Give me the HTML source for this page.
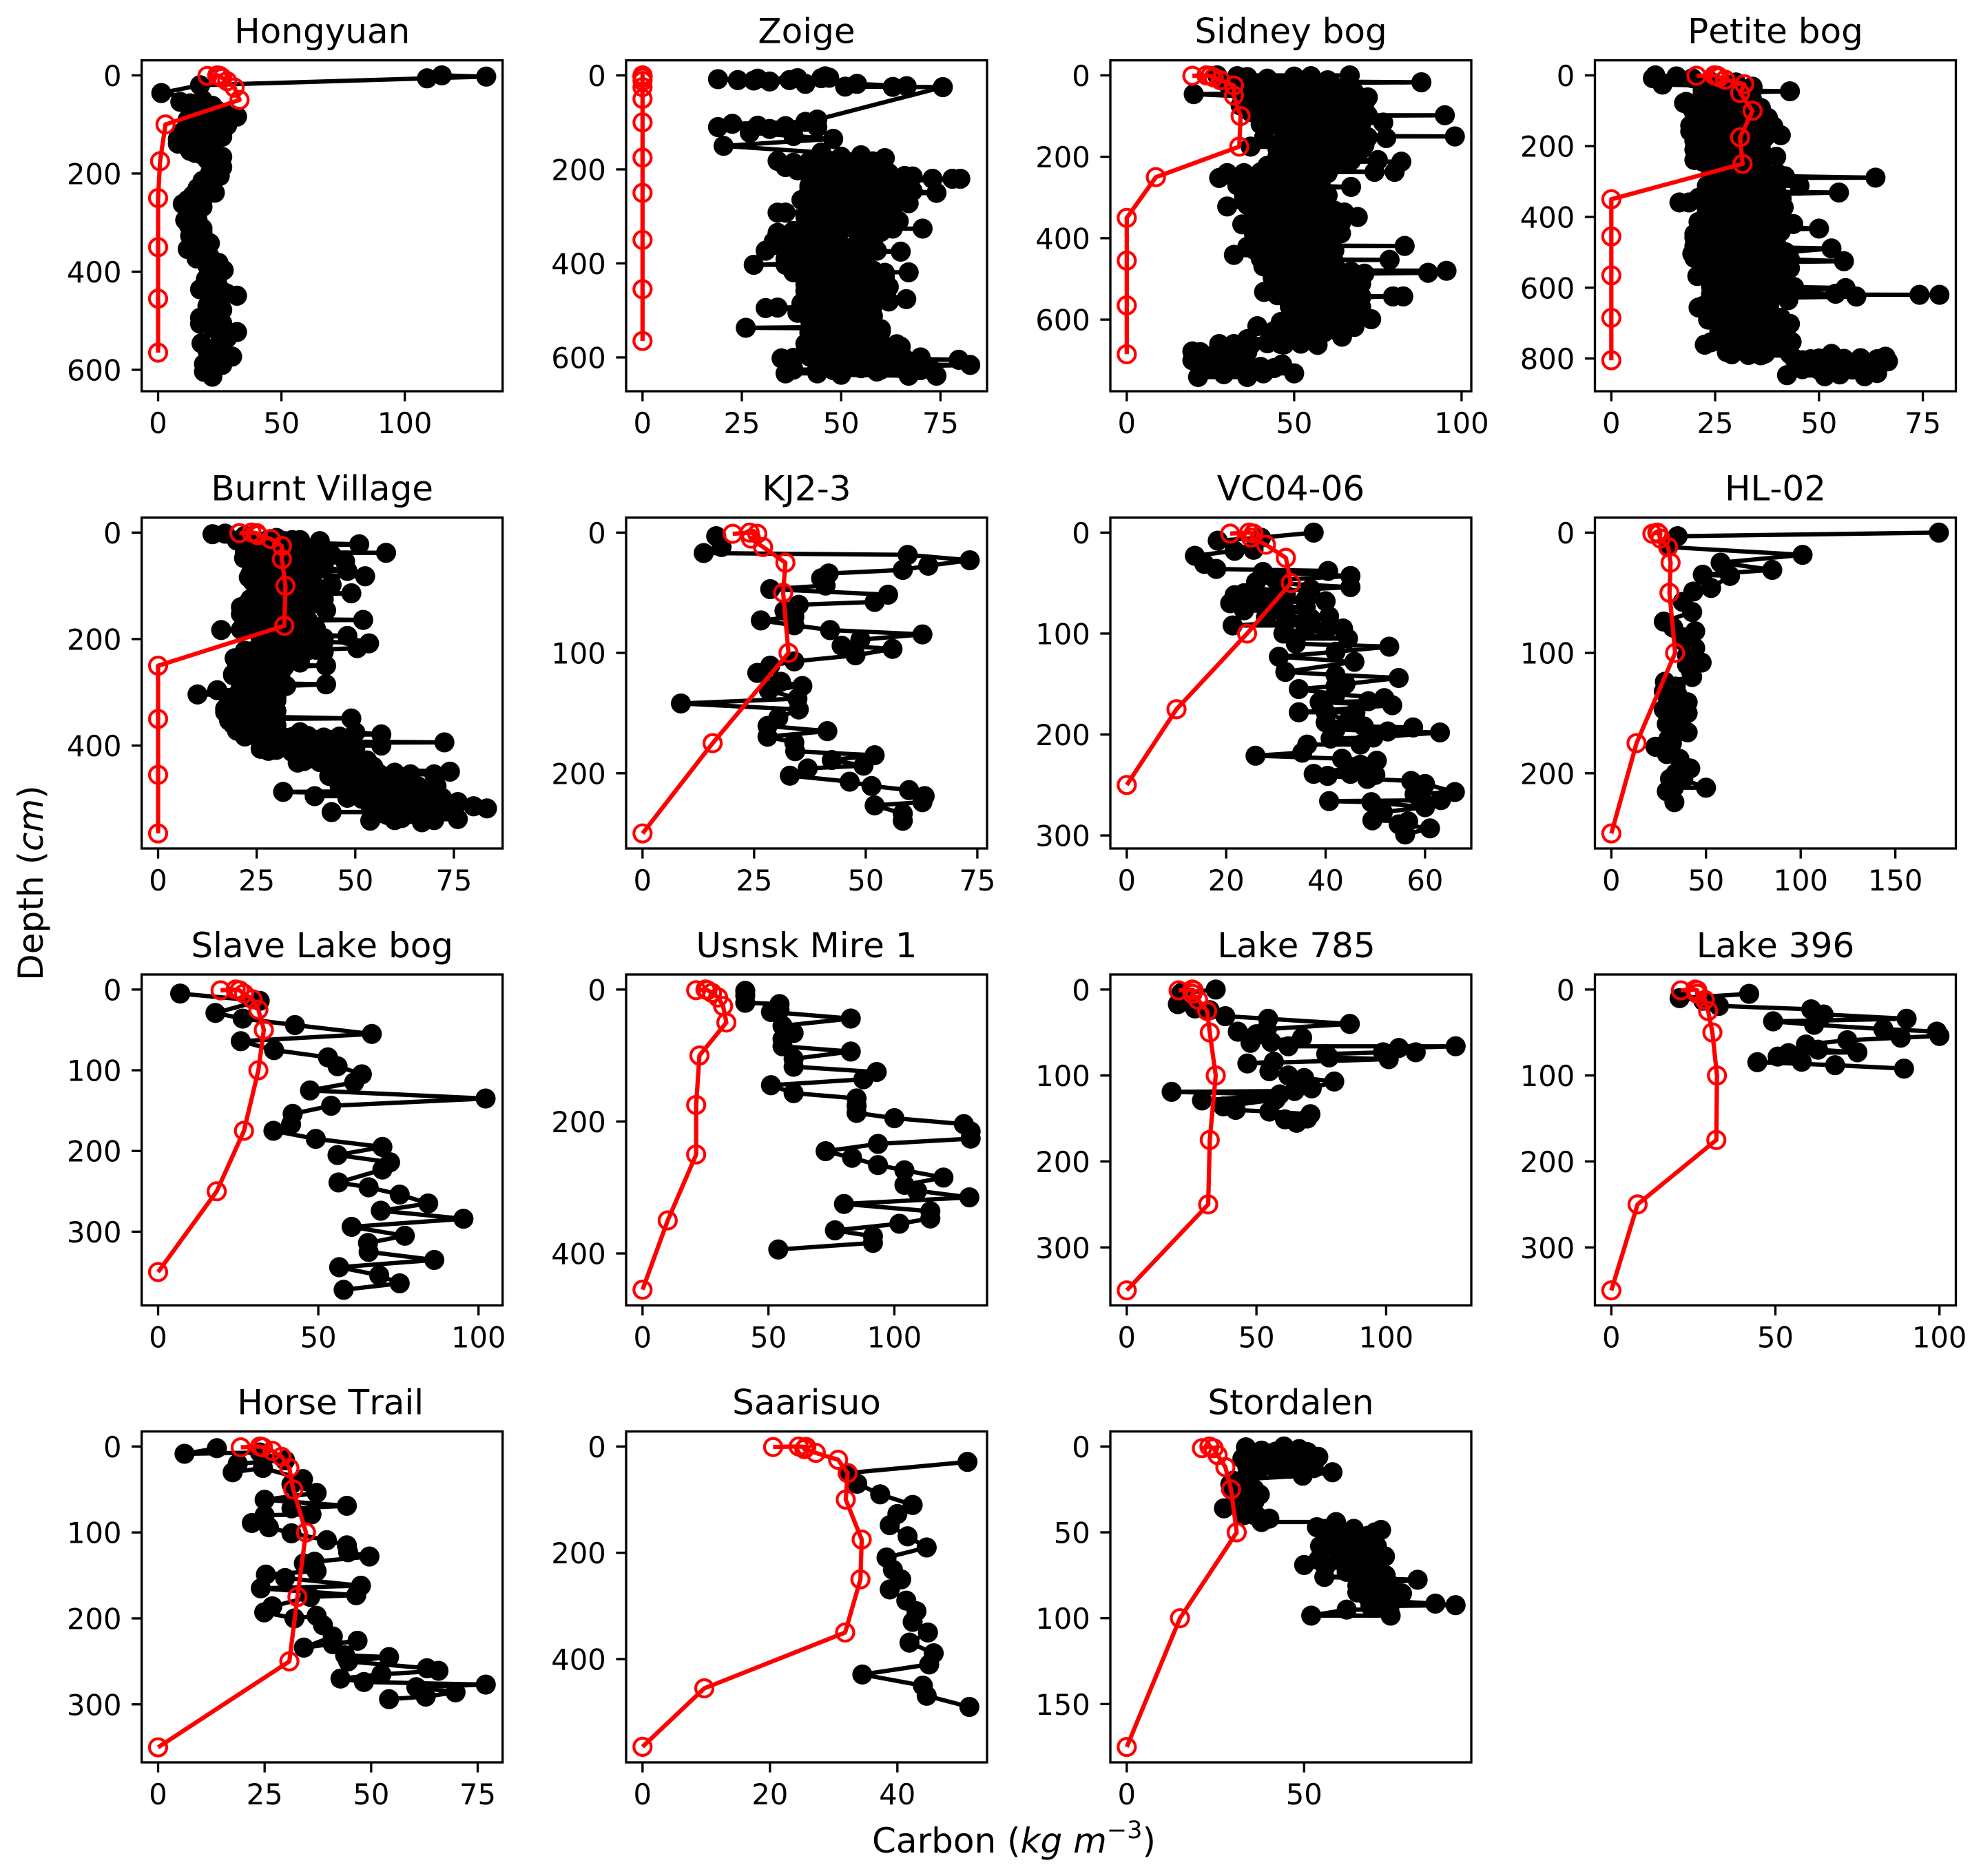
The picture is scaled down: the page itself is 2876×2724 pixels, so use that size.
<!DOCTYPE html>
<html lang="en">
<head>
<meta charset="utf-8">
<title>Carbon density by depth at peat sites</title>
<style>
html,body{margin:0;padding:0;background:#fff;}
svg{display:block;}
text{font-family:"DejaVu Sans","Liberation Sans",sans-serif;fill:#000;}
</style>
</head>
<body>
<svg id="fig" xmlns="http://www.w3.org/2000/svg" width="2876" height="2724" viewBox="0 0 2876 2724">
<rect x="0" y="0" width="2876" height="2724" fill="#fff"/>
<text transform="translate(62,1282) rotate(-90)" text-anchor="middle" font-size="50">Depth (<tspan font-style="italic">cm</tspan>)</text>
<text x="1472" y="2690" text-anchor="middle" font-size="50">Carbon (<tspan font-style="italic">kg m</tspan><tspan font-size="35" dy="-21">−3</tspan><tspan dy="21">)</tspan></text>
</svg>
<script>
const siteNames = ["Hongyuan","Zoige","Sidney bog","Petite bog","Burnt Village","KJ2-3","VC04-06","HL-02","Slave Lake bog","Usnsk Mire 1","Lake 785","Lake 396","Horse Trail","Saarisuo","Stordalen"];
const carbonMax = [133,82.6,98,79,83.2,73.5,66,173.3,102.4,130.3,126.5,100,77,51.5,92.5];
const depthMax = [613,640,739,850,565,250,298,250,372.7,456,350,350,350,566,175.2];
const carbonTicks = [[0,50,100],[0,25,50,75],[0,50,100],[0,25,50,75],[0,25,50,75],[0,25,50,75],[0,20,40,60],[0,50,100,150],[0,50,100],[0,50,100],[0,50,100],[0,50,100],[0,25,50,75],[0,20,40],[0,50]];
const depthTicks = [[0,200,400,600],[0,200,400,600],[0,200,400,600],[0,200,400,600,800],[0,200,400],[0,100,200],[0,100,200,300],[0,100,200],[0,100,200,300],[0,200,400],[0,100,200,300],[0,100,200,300],[0,100,200,300],[0,200,400],[0,50,100,150]];

const modelDepths = [1,0,1,5,12,25,50,100,175,250,350,455,565,685,805];

const modelHongyuan = [20,24,25,26,28,31,33,3,0.8,0,0,0,0];
const modelZoige = [0,0,0,0,0,0,0,0,0,0,0,0,0];
const modelSidney = [19.6,23.8,25,26,28,32,32,34,33.6,8.7,0,0,0,0];
const modelPetite = [20.5,24.8,25.5,26,27.4,32,31,34,31,31.6,0,0,0,0,0];
const modelBurnt = [20.6,23.7,25,25.3,28.6,31.4,31.4,32.3,32,0,0,0,0];
const modelKJ = [20.2,24,25.7,24.3,27,32,31.5,32.7,15.7,0];
const modelVC = [20.8,24.6,25.5,25,28,32,33,24.2,10,0];
const modelHL = [21.7,24.3,25,26,30,31.3,30.7,33.7,13.3,0];
const modelSlave = [19.5,24.2,25.4,26.8,29.5,31.3,33,31.3,26.8,18.3,0];
const modelUsnsk = [21.3,25,25.8,27.6,30,32,33.3,22.6,21.3,21.3,10,0];
const model785 = [20,25.3,25.8,25.3,27.5,31,32,34.3,32,31.4,0];
const model396 = [21.2,25.6,26.2,26.2,28.5,29.5,30.8,32.2,32,8,0];
const modelHorse = [19.4,23.9,24.6,26.8,29,30.8,31.7,34.7,32.7,30.8,0];
const modelSaarisuo = [20.5,24.5,25.7,25.4,27.2,30.7,32.2,31.9,34.4,34.2,31.8,9.7,0];
const modelStordalen = [21.2,23.3,24.5,25.6,27.8,29.4,31,15,0];

/* observed profiles: [carbon, depth] */
const obsHongyuan = [[133,2.5],[115,0],[109,6],[17,20],[1.3,36],[9,54],[13,57],[18,50],[22,62],[14,68],[24,72],[32,84],[18,85],[12,90],[26,95],[20,100],[25,108],[14,105],[10,115],[22,118],[16,125],[24,120],[8,130],[12,135],[8,139],[18,140],[13,154],[17,160],[26,166],[23,175],[20,172],[26,187],[23,195],[22,209],[19,220],[16,230],[23,239],[14,245],[12,254],[18,255],[10,262],[15,270],[13,284],[11,295],[12.5,306],[18,312],[18,321],[13,327],[21,342],[14,340],[12,354],[18,358],[15.6,373],[24.5,382],[20,388],[26.6,397],[22,405],[19.4,415],[24,425],[17,436],[26,440],[32,449],[24,455],[23,458],[20,470],[26,478],[17,494],[24,500],[17,506],[22,515],[32,523],[26,530],[17.6,546],[24,552],[30,573],[24,575],[18.6,588],[20,596],[18.6,604],[22,614]];
const coreHongyuan = [[12,60],[17,66],[22,76],[27,78],[14,80],[20,82],[26,88],[16,95],[22,100],[28,102],[12,110],[18,112],[24,112],[10,125],[15,128],[20,130],[26,125],[11,142],[16,145],[22,140],[15,158],[22,155],[20,165],[24,180],[21,200],[25,205],[18,215],[20,228],[15,240],[19,245],[13,262],[18,268],[14,278],[16,295],[14,318],[18,330],[16,345],[17,365],[21,370],[22,392],[24,410],[21,422],[20,442],[26,452],[28,445],[22,478],[24,490],[20,505],[26,505],[24,520],[28,535],[20,560],[24,560],[26,590],[22,590]];
const obsZoige = [[19,8],[24,10],[28,11],[29,7],[32,13],[37,10],[39,6],[41,18],[45,6],[46,2],[47,5],[51,24],[54,18],[63,24.5],[66.5,23],[75.6,25],[44,94],[41,99],[36,108],[29,107],[27,122],[22.6,103],[19,110],[32,114],[38,129],[44,110],[48,135],[20.4,150],[45,164],[50,173],[55,170],[61,176],[34,182],[36,195],[39,202],[46,190],[52,185],[58,195],[68,215],[73,220],[78,220],[80,220],[62,208],[48,205],[44,215],[56,218],[64,225],[52,228],[42,235],[60,238],[74,250],[68,246],[50,245],[42,255],[62,258],[46,262],[67,272],[40,265],[56,270],[44,278],[60,282],[50,285],[34,292],[36,292],[42,296],[54,298],[64.5,310],[58,305],[44,308],[50,315],[62,320],[70.5,326],[63,326],[46,325],[34,335],[54,332],[42,340],[33,354],[38,350],[48,348],[58,352],[44,360],[31,373],[36,365],[52,368],[59,373],[65,375],[40,380],[50,385],[46,392],[56,395],[28,403],[36,403],[42,405],[52,410],[38,419],[48,418],[67,419],[58,415],[61,430],[44,428],[54,435],[41,445],[50,448],[59,450],[41,459],[47,465],[56,462],[66.4,476],[62,481],[44,472],[52,478],[40,485],[58,490],[31,495],[34,494],[39,505],[48,500],[55,508],[42,518],[52,520],[58,525],[26,537],[44,530],[50,535],[42,548],[60,545],[48,555],[56,560],[43,565],[52,570],[65,577],[60,575],[44,582],[50,588],[35,602],[42,598],[56,595],[79.6,605],[62,605],[48,608],[69.6,621],[82.5,616],[54,615],[36,634],[44,634],[50,637],[59,630],[67,639],[74,639],[63,620]];
const coreZoige = [[38,186],[42,183],[46,188],[50,184],[54,187],[58,183],[42,212],[46,209],[50,214],[54,210],[58,213],[62,211],[66,214],[42,241],[46,238],[50,243],[54,239],[58,242],[62,238],[65,241],[42,271],[46,268],[50,273],[54,269],[58,272],[62,268],[64,272],[41,301],[45,298],[49,303],[53,299],[57,302],[61,299],[38,331],[42,328],[46,333],[50,329],[54,332],[58,329],[60,333],[34,361],[38,358],[42,363],[46,359],[50,362],[54,358],[57,362],[36,391],[40,388],[44,393],[48,389],[52,392],[55,388],[41,421],[45,418],[49,423],[53,419],[57,422],[61,420],[43,451],[47,448],[51,453],[55,449],[59,452],[62,450],[42,481],[46,478],[50,483],[54,479],[58,482],[42,511],[46,508],[50,513],[54,509],[58,512],[42,541],[46,538],[50,543],[54,539],[58,542],[60,540],[41,571],[45,568],[49,573],[53,569],[57,572],[60,570],[64,572],[38,601],[45,598],[50,603],[54,599],[58,602],[62,599],[66,603],[70,600],[38,626],[44,622],[48,627],[55,623],[60,626],[65,623],[70,627],[73,628]];
const obsSidney = [[27,0],[33,2],[36,4],[66.6,0],[50,3],[55,2],[88,17],[42,8],[60,12],[35,14],[30,20],[45,22],[58,25],[40,28],[64,32],[33,36],[50,38],[20,46],[44,44],[68,42],[72,54],[36,52],[56,54],[71,68],[46,62],[60,70],[34,74],[52,78],[64,85],[38,90],[48,92],[72,98],[95,98],[56,100],[41,106],[62,108],[76.6,116],[50,112],[66,118],[46,125],[56,128],[64,135],[48,140],[98,150],[77.5,154],[41,153],[58,148],[68,150],[50,158],[37,175],[46,170],[71,171],[56,172],[62,180],[48,185],[68,190],[54,195],[45,200],[60,205],[75,208],[82,212],[50,215],[66,218],[42,222],[56,226],[74,237],[80,237],[48,235],[60,240],[30,241],[35,240],[27.6,252],[40,250],[52,252],[58,258],[36,265],[46,268],[67,274],[54,278],[38,285],[50,288],[60,295],[42,300],[56,305],[30,322],[36,318],[48,315],[60,320],[44,330],[54,335],[65,337],[38,342],[50,345],[69,348],[42,355],[34.5,366],[56,360],[46,370],[62,375],[38,380],[52,384],[64,388],[42,395],[56,398],[46,405],[60,410],[36,421],[83,419],[52,418],[38,428],[62,430],[32,441],[46,440],[56,445],[78.5,453],[42,455],[62,458],[40.8,469],[50,465],[58,472],[95.5,480],[90,485],[71,487],[66,490],[54,490],[43.6,498],[60,500],[48,508],[68,512],[56,515],[41,532],[50,525],[62,528],[82.6,543],[79.5,543],[70,545],[54,540],[60,552],[48.7,568],[66,562],[56,572],[70,580],[50,585],[64,590],[73,599],[54,600],[60,608],[46,606],[39,616],[68,618],[52,622],[44,628],[64.3,642],[58,636],[50,640],[42.6,653],[53,653],[36,648],[27.6,660],[46,660],[32,668],[19.6,678],[22,680],[36,680],[28,690],[19.6,700],[24,705],[34,702],[46.4,710],[40,716],[50,732],[40.8,732],[36,741],[29,734],[21.3,741]];
const coreSidney = [[32,29],[37,31],[42,28],[47,32],[52,29],[57,31],[62,28],[67,31],[35,60],[40,62],[45,58],[50,61],[55,59],[60,62],[65,60],[70,61],[37,90],[42,92],[47,88],[52,91],[57,89],[62,92],[67,90],[40,120],[45,122],[50,118],[55,121],[60,119],[65,122],[70,120],[47,150],[52,152],[57,148],[62,151],[67,149],[72,152],[45,180],[50,182],[55,178],[60,181],[65,179],[70,182],[47,210],[52,212],[57,208],[62,211],[67,209],[30,240],[35,242],[40,238],[45,241],[50,239],[55,242],[60,240],[33,270],[38,272],[43,268],[48,271],[53,269],[58,272],[35,300],[40,302],[45,298],[50,301],[55,299],[58,302],[38,330],[43,332],[48,328],[53,331],[58,329],[62,332],[40,360],[45,362],[50,358],[55,361],[60,359],[64,362],[38,390],[43,392],[48,388],[53,391],[58,389],[62,392],[40,420],[45,422],[50,418],[55,421],[60,419],[40,450],[45,452],[50,448],[55,451],[60,449],[43,480],[48,482],[53,478],[58,481],[63,479],[67,482],[46,510],[51,512],[56,508],[61,511],[66,509],[70,512],[45,540],[50,542],[55,538],[60,541],[65,539],[70,542],[50,570],[55,572],[60,568],[65,571],[70,569],[48,600],[53,602],[58,598],[63,601],[68,599],[44,630],[49,632],[54,628],[59,631],[64,629],[32,660],[37,662],[42,658],[47,661],[52,659],[57,662],[24,690],[29,692],[34,688],[24,720],[29,722],[34,718],[39,721],[44,719]];
const obsPetite = [[10.6,0],[10,8],[12.3,26],[15.7,3],[19.5,8],[24,18],[30,20],[34,32],[28,36],[43,45],[32,40],[22,50],[30,55],[17.5,78],[26,68],[34,72],[19.5,95],[28,88],[36,92],[37.7,120],[24,105],[32,110],[22,125],[30,135],[36,140],[19,158],[26,150],[34,155],[40.8,169],[24,170],[32,175],[20,185],[28,190],[36,195],[21,200],[30,210],[39.7,230],[26,225],[34,220],[20,239],[28,245],[36,255],[24,262],[32,270],[63.6,289],[41.8,285],[26,290],[36,295],[28,305],[45.3,312],[36,318],[54.8,331],[30,328],[40,335],[16.4,359],[18.7,359],[26,350],[36,355],[41.5,373],[28,375],[34,385],[22.5,407],[30,398],[40,400],[43.8,420],[26,420],[34,425],[50,433],[24,440],[40.8,441],[32,445],[20,458],[28,465],[38,468],[53,489],[24,480],[34,485],[19.5,504],[42,500],[30,510],[56,525],[43,520],[26,530],[36,535],[43,545],[20.7,567],[30,555],[40,560],[28,575],[38,580],[24,597],[34,590],[56.4,601],[44,598],[59,625],[74.2,620],[79,620],[54,617],[42.6,635],[36,620],[30,630],[21,656],[28,650],[36,655],[23.3,690],[34,670],[40.8,685],[30,695],[43,702],[26,715],[36,720],[42,735],[30,740],[43.4,753],[22.5,761],[34,760],[27.8,782],[38,770],[36,791],[43,787],[53,787],[50,800],[46,805],[66,795],[66.6,808],[60,805],[64,841],[61,850],[51.4,850],[55,845],[42.3,847],[50,825]];
const corePetite = [[22,40],[26,42],[30,38],[34,41],[18,75],[22,77],[26,73],[30,76],[34,74],[20,108],[24,110],[28,106],[32,109],[36,107],[19,142],[23,144],[27,140],[31,143],[35,141],[39,144],[21,176],[25,178],[29,174],[33,177],[37,175],[20,210],[24,212],[28,208],[32,211],[36,209],[22,244],[26,246],[30,242],[34,245],[24,278],[28,280],[32,276],[36,279],[40,277],[23,312],[27,314],[31,310],[35,313],[39,311],[21,346],[25,348],[29,344],[33,347],[37,345],[41,348],[23,380],[27,382],[31,378],[35,381],[39,379],[21,414],[25,416],[29,412],[33,415],[37,413],[41,416],[20,448],[24,450],[28,446],[32,449],[36,447],[40,450],[20,482],[24,484],[28,480],[32,483],[36,481],[40,484],[20,516],[24,518],[28,514],[32,517],[36,515],[40,518],[22,550],[26,552],[30,548],[34,551],[38,549],[42,552],[24,584],[28,586],[32,582],[36,585],[40,583],[24,618],[28,620],[32,616],[36,619],[40,617],[22,652],[26,654],[30,650],[34,653],[38,651],[24,686],[28,688],[32,684],[36,687],[40,685],[26,720],[30,722],[34,718],[38,721],[42,719],[24,754],[28,756],[32,752],[36,755],[40,753],[29,788],[33,790],[37,786],[44,800],[48,802],[52,798],[56,801],[60,799],[64,802],[46,830],[50,832],[54,828],[58,831],[62,829]];
const obsBurnt = [[13.8,3],[17,2],[22,6],[30,10],[34,14],[41,16],[51,22],[36,25],[28,30],[40,32],[57.8,38],[44,42],[21.8,48],[30,48],[47.4,54],[36,56],[26,62],[42,65],[48,72],[23.4,78],[32,75],[52.5,82],[38,85],[24,92],[30,95],[44,98],[36,105],[49,114],[40,112],[26,112],[32,118],[23.4,125],[42,125],[36,132],[21,140],[28,140],[42.6,146],[34,150],[24,155],[30,162],[52,164],[38,165],[22,172],[16,183],[21,182],[40,180],[25.8,187],[32,190],[48,194],[36,200],[53.5,208],[42,205],[50.5,217],[40,220],[34,222],[23.7,223],[28,228],[19.4,236],[30,238],[26,244],[42.6,250],[32,252],[20,255],[24,260],[19,266],[30,268],[26,275],[42.6,285],[32.5,288],[22,282],[15,296],[28,295],[10,304],[20,305],[30,308],[27,315],[17,331],[24,325],[30,335],[49,349],[20,345],[28,350],[18,353],[24,360],[30,362],[20,372],[28,375],[36,375],[50,375],[56.6,379],[32,385],[72.6,394],[40,392],[26,395],[56.6,400],[49,400],[28,410],[34,412],[44,415],[38,425],[35.4,432],[46,430],[54.6,440],[44,442],[74,449],[70,454],[50,450],[43.4,457],[56,460],[64,462],[48,468],[70.6,476],[60,475],[52,480],[66,485],[31.7,487],[50,490],[39.7,495],[58,495],[70,498],[51.7,500],[62,505],[76,506],[80,514],[83.4,518],[68,515],[56,518],[44,525],[60,525],[76,538],[61.8,536],[66.9,544],[53.8,541],[58,530]];
const coreBurnt = [[20,15],[24,17],[28,13],[32,16],[36,14],[22,38],[26,40],[30,36],[34,39],[38,37],[24,61],[28,63],[32,59],[36,62],[40,60],[23,84],[27,86],[31,82],[35,85],[39,83],[25,107],[29,109],[33,105],[37,108],[41,106],[23,130],[27,132],[31,128],[35,131],[39,129],[21,153],[25,155],[29,151],[33,154],[37,152],[23,176],[27,178],[31,174],[35,177],[39,175],[26,199],[30,201],[34,197],[38,200],[42,198],[22,222],[26,224],[30,220],[34,223],[38,221],[42,224],[20,245],[24,247],[28,243],[32,246],[36,244],[19,268],[23,270],[27,266],[31,269],[21,291],[25,293],[29,289],[18,314],[22,316],[26,312],[30,315],[17,337],[21,339],[25,335],[29,338],[19,360],[23,362],[27,358],[22,383],[26,385],[30,381],[34,384],[38,382],[42,385],[46,383],[26,406],[30,408],[34,404],[38,407],[42,405],[46,408],[50,406],[37,429],[41,431],[45,427],[49,430],[53,428],[44,452],[48,454],[52,450],[56,453],[60,451],[64,454],[46,475],[50,477],[54,473],[58,476],[62,474],[66,477],[48,498],[52,500],[56,496],[60,499],[64,497],[68,500],[72,498],[54,521],[58,523],[62,519],[66,522],[70,520],[74,523],[60,540],[70,540]];
const obsKJ = [[16.5,3],[17.7,12],[13.7,17],[59.4,18.5],[73.3,23],[64,27.5],[58.3,31],[41.7,34],[40,38],[41,44],[28.6,47],[55,51.6],[52,57.6],[35,60],[31.8,65],[34,70],[26.5,73],[34,77],[42,81],[62.7,84.6],[48.8,89],[44.6,94],[56,96.6],[47.7,102],[34,107],[28.6,110.6],[25.7,116.6],[31,124],[35.8,127.5],[28.3,131],[34.7,138],[8.6,142],[35,147],[30.4,154],[28,160.7],[41.4,165],[28,169.6],[34,174.5],[34.2,181.7],[52,185],[42.4,189],[49.5,193.7],[37,196],[33,202],[46.4,207],[51.3,210.6],[59.7,214],[63.2,219],[62.7,224],[52,226.7],[58.3,233.5],[58.3,239.5]];
const obsVC = [[37.6,0],[27,5],[18.3,8],[21.7,18],[25.5,17],[13.7,23],[15.6,31],[18,36],[27.4,39],[40.5,38],[45,43],[26,49],[30,47],[45,54],[37,56],[21.7,62],[23.6,60],[20.8,70],[40,68],[23.6,77],[30,75],[40.7,83],[37,85],[21.3,92],[32,89],[43.5,95],[31.5,100],[44.5,105],[52.8,113],[34,110],[42,118],[30.6,123],[45.8,128],[31.9,138],[54.7,144],[42,141],[34.6,155],[42,152],[38.8,168],[48.6,167],[51.8,164],[53.4,171],[34.6,178],[40,188],[44.5,187],[47.7,192],[57.6,193],[63,198],[52.5,197],[49.6,203],[41,204],[47,210],[36.3,210],[35.3,218],[25.9,221],[43.3,224],[50.3,226],[47,230],[37.6,239],[40.4,241],[45,239],[48.4,244],[57.2,246],[60,249],[66,257],[57.9,259],[63.2,265],[40.7,266],[49.2,267],[60,272],[51.5,277],[49.4,285],[56.6,286],[54.7,289],[61,293],[56,299]];
const coreVC = [[36,95],[40,97],[34,105],[25,60],[28,64],[32,62],[36,66],[24,72],[28,72],[32,78],[36,74],[28,84],[32,84],[36,92],[42,160],[46,178],[42,195],[44,150],[40,178],[46,232],[50,240]];
const obsHL = [[173,0],[35,3],[30,12],[101,18.5],[57.7,25],[85,31],[62.7,36],[48.3,35],[52.7,46],[43.3,49],[37.7,57.6],[42.7,66],[27.7,74],[32.7,79],[44.3,82],[38,90],[44.3,96],[40,102],[47.7,108],[42.7,120],[28.3,124],[34,128],[27.7,132],[40.3,141],[34,144],[27.7,147],[40.3,150],[29.3,159],[36,162],[40.3,166],[30,172],[23.3,178],[29.3,184],[36,188],[41.7,196],[31,204.6],[50,212],[29.3,215],[33.3,224]];
const coreHL = [[38,88],[40,110],[42,115],[30,130],[35,135],[30,140],[34,155],[36,165],[32,175],[28,178],[34,200],[38,205],[33,212]];
const obsSlave = [[6.9,5],[31.7,14],[17.9,29],[26.4,36],[42.7,44],[66.7,55],[25.8,64],[36.2,75],[53,84],[56,95],[63.6,105],[61.2,115],[47.4,125],[102.2,135],[54,144],[42,154],[41.5,167],[36,175],[49.2,185],[70,195],[56,205],[72.4,214],[70,223],[56.3,239],[65.7,245],[75.4,254],[84.3,265],[69.5,274],[95.3,284],[60.4,294],[77,305],[65.5,314],[65.7,325],[86.2,335],[56.5,344],[69,354],[75.4,364],[57.9,372]];
const obsUsnsk = [[40.8,2],[40.8,9],[40.8,20],[54.4,22],[54.4,31],[51,34],[82.7,44],[55.6,55],[60,66],[55.6,75],[55.6,86],[82.7,94],[60,105],[60,117],[93,125],[87.7,136],[51,145],[60,157],[85,165],[85,176],[85,187],[100,195],[127.6,204],[130.3,215],[130.3,226],[93.5,234],[72.7,245],[83.2,255],[93.5,266],[104,274],[119.5,285],[104,296],[109,305],[129.8,315],[80,325],[114.3,336],[114.3,347],[102,355],[76.4,365],[91.5,374],[91.5,384],[53.9,394]];
const obs785 = [[34.3,0],[21,4],[19.7,17],[26.3,22],[32,24],[38,31],[54.5,34],[86,40],[54,46],[42.8,49],[50,52],[47.7,62],[67.6,56],[55.7,61],[62.3,66],[126.8,66],[104.9,68],[111.4,73],[98.8,73],[76.9,75],[78,79],[101,81],[46.5,86],[56.7,84],[55,95],[62.3,100],[68.4,103],[80,107],[71.3,115],[64.7,118],[17.3,119],[59,122],[29,129],[57.4,128],[37.2,136],[42,140],[55,142],[70.8,145],[61,151],[69.6,150],[65.5,155]];
const obs396 = [[42,5],[20.8,10],[28,13],[32.8,19],[60.9,23],[64.7,29],[90,34],[49.3,37],[61.8,41],[82.9,46],[99.2,49],[100,54],[88.2,56],[71.9,59],[59.3,64],[63,70],[75,73],[54,74],[50.7,78],[58,84],[44.5,84.5],[68.2,88],[89.2,92]];
const obsHorse = [[13.8,2],[6.2,8.5],[23.9,7],[29.8,16],[18.7,20],[17.5,30],[24.6,25],[34,38],[31.3,44],[37.2,54],[25,62],[44.3,69],[31.3,72],[36,79],[25,80],[22,89],[26,94],[31.3,101],[39.6,109],[44.3,115],[44.6,123],[49.6,128],[36.7,134],[34.2,136],[37.2,145],[25.3,149],[29.8,153],[47.6,162],[24.1,165],[46.5,173],[35.7,175],[26.8,186],[24.9,193],[32,200],[37.2,197],[38.7,208],[41,221],[34.2,234],[46.8,226],[41,230],[43.9,243],[54.2,245],[44.6,250],[63.1,258],[65.8,261],[52.4,265],[42.8,270],[48.3,274],[76.9,277],[60.6,280],[69.8,286],[62.8,291],[54.2,294]];
const obsSaarisuo = [[51,29],[32.2,50],[33.7,70],[37.3,90],[42.4,110],[40,127],[38.8,148],[41.6,169],[44.6,190],[38.3,209],[39.3,232],[40.6,250],[38.8,269],[41.4,290],[43,310],[42.4,330],[44.8,350],[41.9,369],[45.7,389],[45,410],[34.5,429],[44,450],[44.6,469],[51.3,490]];
const obsStordalen = [[33.6,0.5],[38,2.4],[44.3,0],[48.6,1.5],[42,3],[51,3.3],[36,5],[54,6],[32.6,7],[40,6],[46,8],[50,9],[34,11],[42,11],[52.7,12.6],[36,14],[46,13],[58,15],[49.6,17],[33,19],[30,20],[29.2,22],[32,24],[36,25],[37.5,28],[33,30],[36,32],[27.4,36],[32,36],[34,37.5],[36,40],[40.2,42],[38,44],[53.6,47],[59,44],[56,48],[64,48],[71.7,48.6],[70,50],[60,52],[66,55],[54.5,58],[58,56],[70.5,58],[64,60],[72.8,64],[62,65],[54,66],[50,69],[56,70],[66,72],[55.7,76],[70,74],[73,75],[82,77.6],[65,81],[70,80],[74,82],[65,85],[77.6,85.6],[68,88],[74,90],[87,91.5],[92.7,92.4],[68.7,93],[74,95],[62,95],[52,98.5],[74.4,98.5]];
const coreStordalen = [[35,5],[40,4],[45,5],[50,5],[34,12],[38,12],[42,13],[46,12],[50,12],[30,26],[34,27],[31,33],[35,34],[33,40],[37,41],[58,52],[63,53],[68,52],[56,59],[61,60],[66,59],[70,60],[60,66],[65,67],[70,66],[62,73],[66,74],[66,80],[70,81],[74,80],[68,87],[72,88],[76,87],[70,94],[74,94]];

function mergeByDepth(a, b){ return a.concat(b).sort(function(p, q){ return p[1] - q[1]; }); }

const observedSeries = [mergeByDepth(obsHongyuan,coreHongyuan),mergeByDepth(obsZoige,coreZoige),mergeByDepth(obsSidney,coreSidney),mergeByDepth(obsPetite,corePetite),mergeByDepth(obsBurnt,coreBurnt),obsKJ,mergeByDepth(obsVC,coreVC),mergeByDepth(obsHL,coreHL),obsSlave,obsUsnsk,obs785,obs396,obsHorse,obsSaarisuo,mergeByDepth(obsStordalen,coreStordalen)];
const modelSeries = [modelHongyuan,modelZoige,modelSidney,modelPetite,modelBurnt,modelKJ,modelVC,modelHL,modelSlave,modelUsnsk,model785,model396,modelHorse,modelSaarisuo,modelStordalen];

const NS = "http://www.w3.org/2000/svg";
const fig = document.getElementById("fig");
const colLeft = [205.7,909,1612,2315.5];
const rowTop = [87.6,751.5,1415,2078.5];
const titleShift = [0,0,0,0,0,0,0,0,0,0,8,0,12,0,0];
const AX_W = 524, AX_H = 480.5;
const LW = 6.25, MR = 12.5, MEW = 4.17, SPINE = 3.33, TICK = 14.6, PAD = 14.6;

function mk(tag, parent, attrs){
  const el = document.createElementNS(NS, tag);
  for (const k in attrs) el.setAttribute(k, attrs[k]);
  parent.appendChild(el);
  return el;
}

siteNames.forEach(function(name, i){
  const left = colLeft[i % 4], top = rowTop[Math.floor(i / 4)];
  const xM = carbonMax[i], yM = depthMax[i];
  const xScale = function(v){ return left + (v + 0.05 * xM) / (1.1 * xM) * AX_W; };
  const yScale = function(v){ return top + (v + 0.05 * yM) / (1.1 * yM) * AX_H; };
  const slug = name.toLowerCase().replace(/[^a-z0-9]+/g, '-');

  const g = mk('g', fig, {});
  
  

  const title = mk('text', g, {x: left + AX_W / 2 + titleShift[i], y: top - 25, 'text-anchor': 'middle', 'font-size': 50, style: 'font-kerning:none'});
  
  
  title.textContent = name;

  const obs = observedSeries[i];
  const obsLine = mk('polyline', g, {points: obs.map(function(p){ return xScale(p[0]) + ',' + yScale(p[1]); }).join(' '), fill: 'none', stroke: '#000', 'stroke-width': LW, 'stroke-linejoin': 'round'});
  
  
  obs.forEach(function(p){
    const dot = mk('circle', g, {cx: xScale(p[0]), cy: yScale(p[1]), r: MR + MEW / 2, fill: '#000'});
    
    
  });

  const model = modelSeries[i];
  const modelLine = mk('polyline', g, {points: model.map(function(v, k){ return xScale(v) + ',' + yScale(modelDepths[k]); }).join(' '), fill: 'none', stroke: '#f00', 'stroke-width': LW, 'stroke-linejoin': 'round'});
  
  
  model.forEach(function(v, k){
    const ring = mk('circle', g, {cx: xScale(v), cy: yScale(modelDepths[k]), r: MR, fill: 'none', stroke: '#f00', 'stroke-width': MEW});
    
    
  });

  const frame = mk('rect', g, {x: left, y: top, width: AX_W, height: AX_H, fill: 'none', stroke: '#000', 'stroke-width': SPINE});
  
  

  carbonTicks[i].forEach(function(t){
    const px = xScale(t), base = top + AX_H;
    const tick = mk('line', g, {x1: px, x2: px, y1: base, y2: base + TICK, stroke: '#000', 'stroke-width': SPINE});
    
    
    const lab = mk('text', g, {x: px, y: base + 61, 'text-anchor': 'middle', 'font-size': 41.67});
    
    
    lab.textContent = t;
  });
  depthTicks[i].forEach(function(t){
    const py = yScale(t);
    const tick = mk('line', g, {x1: left - TICK, x2: left, y1: py, y2: py, stroke: '#000', 'stroke-width': SPINE});
    
    
    const lab = mk('text', g, {x: left - TICK - PAD, y: py + 15.5, 'text-anchor': 'end', 'font-size': 41.67});
    
    
    lab.textContent = t;
  });
});
</script>
</body>
</html>
